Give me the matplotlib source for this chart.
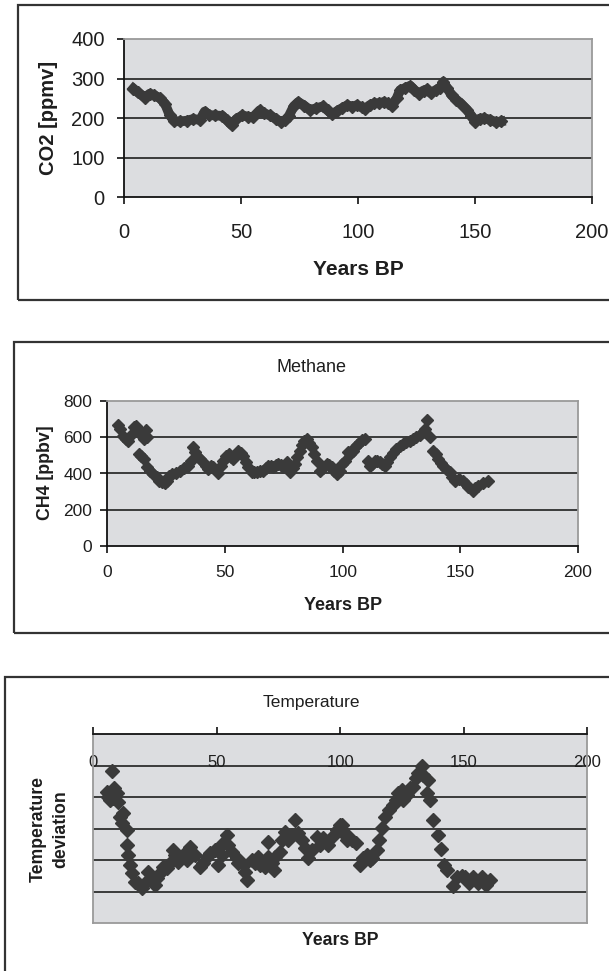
import matplotlib
matplotlib.use("Agg")
import matplotlib.pyplot as plt
from matplotlib.patches import Rectangle

# ---- data ----
years_ticks = [0, 50, 100, 150, 200]

co2_age = [4, 6, 9, 11, 13, 15.5, 17.5, 19.5, 21.5, 24, 27, 29.5, 32.5, 34.5,
           36.5, 39, 42, 44, 46, 48, 50.5, 53, 55, 58, 60, 62.5, 65, 67, 69,
           70.5, 72.5, 74.5, 77, 79.5, 82, 85, 87, 89, 91, 93, 95.5, 97.5,
           99.5, 101.5, 103, 105, 107, 109, 111, 113, 114.5, 116.5, 118, 120,
           122.3, 124, 126, 128, 129.5, 131, 133.5, 135, 136.5, 138, 140, 142,
           144, 146.5, 148.5, 150, 152, 154, 156.5, 159, 161]
co2_ppmv = [275, 265, 252, 262, 258, 250, 237, 208, 193, 192, 194, 198, 196, 217,
            208, 207, 206, 195, 183, 198, 207, 204, 202, 220, 212, 207, 198, 191, 196,
            206, 230, 241, 232, 221, 225, 230, 220, 210, 218, 225, 233, 229,
            233, 228, 224, 233, 238, 238, 241, 238, 232, 250, 271, 276,
            282, 272, 262, 270, 273, 264, 272, 276, 292, 277, 258, 247,
            237, 222, 206, 191, 199, 200, 196, 190, 192]
co2_ticks = [0, 100, 200, 300, 400]

ch4_age = [4.7, 5.4, 6.7, 7.9, 8.7, 10, 11.2, 12.1, 13, 13.8, 14.9, 15.4, 16.3, 16.8,
           13.5, 14.4, 15.4, 17, 18.2, 19.5, 21, 22, 23.1, 24.5, 25.5, 26.3, 27.3,
           29, 30.9, 32.5, 34.4, 35.5, 36.5, 37.2, 38, 39.4, 40.8, 42, 42.9, 44, 45,
           46, 47.2, 48.2, 49.3, 50.4, 51.5, 52.5, 53.5, 54.5, 55.7, 56.8, 57.8, 59,
           59.9, 61.3, 62.4, 63.5, 65, 66.3, 67.3, 68.4, 69.5, 70.5, 71.6, 72.7,
           73.8, 74.8, 76.2, 77.6, 78.7, 79.7, 80.8, 81.8, 82.8, 83.7, 84.7, 85.8,
           86.9, 88, 89, 90.4, 91.8, 93.3, 94.3, 95.3, 96.4, 97.5, 98.9, 99.6, 101,
           102.4, 103, 104.2, 105.2, 106.2, 107.3, 108.4, 109.4, 110.8, 111.5, 112.5,
           113.6, 114.7, 115.7, 116.8, 117.9, 119, 120, 121.4, 122.8, 124.2, 125.7,
           127, 128.5, 130, 131.3, 132.8, 134.2, 135, 135.9, 137, 138.4, 139.5,
           140.6, 141.7, 142.7, 144, 145.5, 146.5, 147.7, 149.5, 151.2, 152.3,
           153.3, 155.2, 156.4, 157.6, 159.7, 161.8]
ch4_ppbv = [670, 646, 609, 590, 577, 615, 655, 664, 645, 627, 605, 590, 640, 600,
            508, 495, 480, 434, 415, 397, 378, 360, 351, 345, 360, 385, 397,
            405, 415, 430, 443, 470, 544, 520, 499, 480, 462, 440, 424, 440, 434,
            420, 400, 440, 471, 495, 508, 490, 480, 505, 526, 515, 499, 465,
            434, 406, 410, 406, 412, 415, 430, 443, 440, 434, 445, 452,
            445, 434, 462, 406, 430, 452, 490, 526, 560, 580, 591, 570,
            545, 505, 471, 415, 430, 452, 445, 434, 415, 397, 415, 452, 471,
            517, 508, 525, 545, 560, 572, 585, 591, 471, 443, 455,
            471, 470, 462, 450, 443, 465, 489, 512, 535, 550, 563,
            572, 581, 590, 600, 612, 627, 645, 696, 604, 526, 505,
            480, 460, 443, 425, 406, 380, 360, 370, 360, 340,
            323, 305, 320, 332, 345, 360]
ch4_ticks = [0, 200, 400, 600, 800]

temp_age = [5.4, 6.1, 6.8, 7.4, 8.1, 8.5, 9.5, 10.1, 10.8, 11.8, 12.2, 13.5, 13.5,
            13.9, 14.9, 15.5, 16.9, 18.2, 19.6, 21, 22.3, 23.6, 25, 25.7, 27,
            28.4, 29.7, 31.1, 32.4, 33.1, 34.4, 35.8, 37.1, 37.8, 39.2, 39.8,
            41.2, 43.2, 44.6, 45.9, 47.3, 49.3, 50.7, 52, 52.7, 54, 54.7, 56.1,
            58.1, 58.8, 60.9, 61.5, 62.2, 64.2, 65.5, 66.9, 67.6, 69.6, 70.9,
            70.9, 72.3, 73, 73.6, 75.6, 76.3, 77.6, 79, 80.4, 81.7, 83, 84.4,
            85.8, 87.1, 88.5, 90.5, 91.8, 93.2, 95.2, 96.6, 98.6, 100, 100.6,
            101.3, 102, 102.6, 104.6, 106.4, 108, 109.4, 110.7, 112.1, 112.8,
            114.8, 115.9, 116.8, 118.2, 119.9, 121.5, 122.6, 123.6, 124.9,
            125.6, 127, 128.3, 129.7, 130.8, 131.7, 133.1, 133.7, 135.1,
            135.7, 136.5, 137.8, 139.5, 140.8, 141.9, 143.2, 145.7, 147.3,
            149.3, 150.7, 152.4, 154, 155.7, 157.4, 159.2, 160.8]
temp_dev = [-1.66, -1.98, -2.19, -0.33, -2.08, -1.45, -1.77, -2.3, -3.25, -3.67,
            -3.04, -4.1, -5.05, -5.68, -6.32, -6.85, -7.38, -7.48, -7.8, -7.48,
            -6.74, -7.06, -7.59, -7.16, -6.85, -6.42, -6.53, -6.21, -5.36, -5.68,
            -6.1, -5.79, -5.58, -6.0, -5.15, -5.58, -5.68, -6.42, -6.21, -5.79,
            -5.58, -5.36, -6.32, -5.68, -4.94, -4.41, -5.05, -5.47, -5.89, -6.21,
            -6.32, -6.74, -7.27, -6.0, -6.21, -5.79, -6.32, -6.42, -4.84, -5.79,
            -6.21, -6.63, -5.79, -5.47, -4.73, -4.2, -4.73, -4.41, -3.46, -4.31,
            -4.73, -5.26, -5.89, -5.36, -4.52, -5.05, -4.62, -5.05, -4.52, -4.1,
            -3.78, -3.78, -4.31, -4.31, -4.73, -4.73, -4.94, -6.32, -5.89, -5.68,
            -6.0, -5.89, -5.36, -4.73, -3.99, -3.25, -2.83, -2.51, -2.19, -1.77,
            -1.56, -2.19, -1.87, -1.45, -1.34, -0.81, -0.5, -0.03, -0.6, -1.77,
            -0.92, -2.19, -3.46, -4.41, -5.32, -6.32, -6.63, -7.65, -7.06, -7.02,
            -7.06, -7.48, -7.06, -7.48, -7.06, -7.59, -7.27]
temp_grid = [0, -2, -4, -6, -8]

# ---- style ----
W, H = 609, 971
bg = '#dcdde0'
ink = '#3a3a3a'
gridc = '#2e2e2e'
edge = '#9a9a9a'
txt = '#1e1e1e'

plt.rcParams['font.family'] = ['Liberation Sans', 'DejaVu Sans']
fig = plt.figure(figsize=(W / 100, H / 100), dpi=100)


def fx(px):
    return px / W


def fy(py):
    return 1 - py / H


def frame(l, t, r, b):
    fig.add_artist(Rectangle((fx(l), fy(b)), fx(r) - fx(l), fy(t) - fy(b),
                             transform=fig.transFigure, fill=False,
                             lw=1.6, ec='#333333', clip_on=True))


def base(l, t, r, b):
    ax = fig.add_axes([fx(l), fy(b), fx(r) - fx(l), fy(t) - fy(b)])
    ax.set_facecolor(bg)
    ax.set_xlim(0, 200)
    for s in ax.spines.values():
        s.set_color(edge)
        s.set_linewidth(1.3)
    return ax


# ---- panel 1: CO2 ----
frame(17.5, 5, 640, 300.5)
ax1 = base(124, 39, 592, 197.5)
ax1.set_ylim(0, 400)
for v in co2_ticks[1:-1]:
    ax1.axhline(v, color=gridc, lw=1.3, zorder=1)
ax1.plot(co2_age, co2_ppmv, color=ink, lw=7, marker='D', ms=6.5,
         solid_joinstyle='round', zorder=3)
ax1.set_xticks(years_ticks)
ax1.set_yticks(co2_ticks)
for s in ('left', 'bottom'):
    ax1.spines[s].set_color('#111111')
ax1.tick_params(direction='out', length=5, width=1.2, color='#111111',
                labelsize=14.5, labelcolor=txt)
ax1.tick_params(axis='x', pad=13)
ax1.tick_params(axis='y', pad=9)
fig.text(fx(358), fy(269), 'Years BP', ha='center', va='center',
         fontsize=15, fontweight='bold', color=txt)
fig.text(fx(49), fy(118), 'CO2 [ppmv]', ha='center', va='center',
         rotation=90, fontsize=14.5, fontweight='bold', color=txt)

# ---- panel 2: Methane ----
frame(13.6, 342, 640, 633)
ax2 = base(107.3, 401, 578, 546)
ax2.set_ylim(0, 800)
for v in ch4_ticks[1:-1]:
    ax2.axhline(v, color=gridc, lw=1.3, zorder=1)
ax2.plot(ch4_age, ch4_ppbv, ls='none', color=ink, marker='D', ms=6, zorder=3)
ax2.set_xticks(years_ticks)
ax2.set_yticks(ch4_ticks)
for s in ('left', 'bottom'):
    ax2.spines[s].set_color('#111111')
ax2.tick_params(direction='out', length=5, width=1.2, color='#111111',
                labelsize=12.5, labelcolor=txt)
ax2.tick_params(axis='x', pad=9)
ax2.tick_params(axis='y', pad=6)
fig.text(fx(311), fy(367), 'Methane', ha='center', va='center',
         fontsize=13, color=txt)
fig.text(fx(343), fy(605), 'Years BP', ha='center', va='center',
         fontsize=13, fontweight='bold', color=txt)
fig.text(fx(46), fy(473), 'CH4 [ppbv]', ha='center', va='center',
         rotation=90, fontsize=12.8, fontweight='bold', color=txt)

# ---- panel 3: Temperature ----
frame(4.7, 677, 640, 1000)
ax3 = base(93.3, 734, 587, 923)
ax3.set_ylim(-10, 2)
for v in temp_grid:
    ax3.axhline(v, color=gridc, lw=1.3, zorder=1)
ax3.plot(temp_age, temp_dev, ls='none', color=ink, marker='D', ms=6.8, zorder=3)
ax3.spines['top'].set_color('#111111')
ax3.set_yticks([])
ax3.set_xticks(years_ticks)
ax3.xaxis.set_ticks_position('top')
ax3.tick_params(axis='x', direction='out', length=5, width=1.2,
                color='#111111', labeltop=False, labelbottom=False)
for v in years_ticks:
    ax3.text(v, 0.2, str(v), ha='center', va='center', fontsize=12,
             color=txt, zorder=2)
fig.text(fx(311), fy(702), 'Temperature', ha='center', va='center',
         fontsize=12.5, color=txt)
fig.text(fx(340), fy(940), 'Years BP', ha='center', va='center',
         fontsize=12.7, fontweight='bold', color=txt)
fig.text(fx(49.5), fy(829), 'Temperature\ndeviation', ha='center', va='center',
         rotation=90, fontsize=12.7, fontweight='bold', color=txt,
         linespacing=1.35, multialignment='center')

fig.savefig('out.png', dpi=100)
